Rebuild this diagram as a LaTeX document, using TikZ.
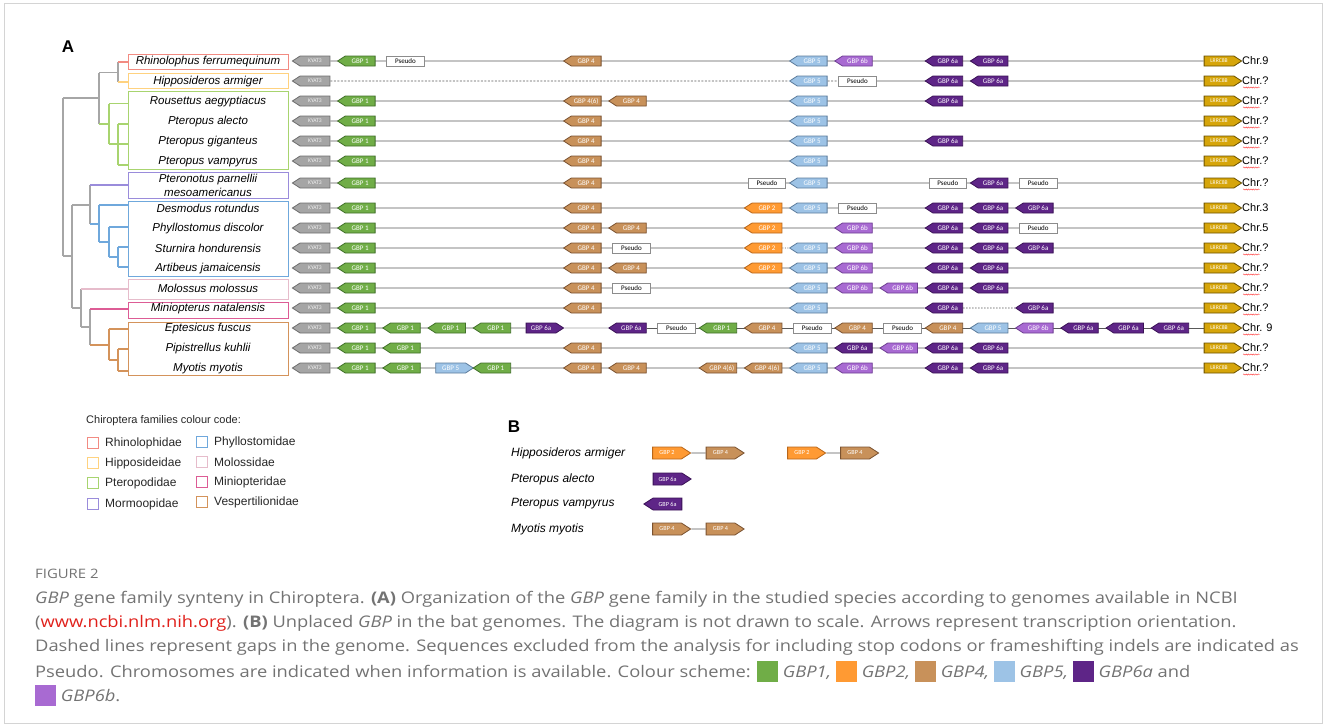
\documentclass[tikz,border=0pt]{standalone}
\usepackage{fontspec}
\setmainfont{Liberation Sans}
\newfontfamily\genefont{Carlito}
\newfontfamily\capfont{Open Sans}
\usetikzlibrary{shapes.symbols,backgrounds,decorations.pathmorphing}
\definecolor{kyF}{HTML}{A5A5A5}\definecolor{kyD}{HTML}{6E6E6E}
\definecolor{g1F}{HTML}{70AD47}\definecolor{g1D}{HTML}{41702A}
\definecolor{g2F}{HTML}{FF9A33}\definecolor{g2D}{HTML}{B8661A}
\definecolor{g4F}{HTML}{C8915A}\definecolor{g4D}{HTML}{7A5230}
\definecolor{g5F}{HTML}{9DC3E6}\definecolor{g5D}{HTML}{5C7C9C}
\definecolor{g6aF}{HTML}{5E2587}\definecolor{g6aD}{HTML}{3A1256}
\definecolor{g6bF}{HTML}{A86AD2}\definecolor{g6bD}{HTML}{6E3E92}
\definecolor{lrF}{HTML}{D6A50A}\definecolor{lrD}{HTML}{6B5200}
\definecolor{psD}{HTML}{8C8C8C}
\definecolor{lineG}{HTML}{595959}
\definecolor{treeG}{HTML}{A6A6A6}
\definecolor{rhC}{HTML}{F28B82}
\definecolor{hiC}{HTML}{FFD27F}
\definecolor{ptC}{HTML}{A8D46F}
\definecolor{moC}{HTML}{9A8CDB}
\definecolor{phC}{HTML}{6FA8DC}
\definecolor{mlC}{HTML}{E6BCCB}
\definecolor{miC}{HTML}{DD5C95}
\definecolor{veC}{HTML}{D4935B}
\definecolor{capG}{HTML}{737373}
\definecolor{capRed}{HTML}{E0201B}
\definecolor{frameG}{HTML}{D4D4D4}
\newcommand{\generow}[3]{\foreach \gk/\gs/\gl in {#3} {\node[\gs] (r#1-\gk) at ({315+45.2*\gk},#2) {\gl};}}
\newcommand{\csq}[1]{{\color{#1}\rule[-4.5pt]{18.5pt}{21pt}}\hspace{4pt}}
\newcommand{\capline}[1]{\scalebox{1.145}[1]{#1}}
\begin{document}
\begin{tikzpicture}[x=1pt,y=-1pt,
  gene/.style={signal, signal to=west, signal pointer angle=66, minimum width=37.5pt, minimum height=10pt, inner sep=0pt, line width=0.8pt, text=white, font=\genefont\fontsize{7}{7}\selectfont},
  gKY/.style={gene, fill=kyF, draw=kyD, text=white!90!gray, font=\genefont\fontsize{5.6}{6}\selectfont},
  gG1/.style={gene, fill=g1F, draw=g1D},
  gG2/.style={gene, fill=g2F, draw=g2D},
  gG4/.style={gene, fill=g4F, draw=g4D},
  gG5/.style={gene, fill=g5F, draw=g5D},
  gG5R/.style={gG5, signal to=east},
  gG6a/.style={gene, fill=g6aF, draw=g6aD},
  gG6aR/.style={gG6a, signal to=east},
  gG6b/.style={gene, fill=g6bF, draw=g6bD},
  gLR/.style={gene, signal to=east, fill=lrF, draw=lrD, font=\genefont\fontsize{5.6}{6}\selectfont},
  gPS/.style={rectangle, draw=psD, fill=white, line width=0.8pt, minimum width=37.5pt, minimum height=10pt, inner sep=0pt, text=black, font=\genefont\fontsize{7}{7}\selectfont},
  bigB/.style={minimum width=38pt, minimum height=12pt, signal to=east, font=\genefont\fontsize{6.2}{7}\selectfont},
  rowline/.style={draw=lineG, line width=0.9pt},
  tr/.style={line width=1.2pt, draw=treeG},
  fam/.style={line width=1pt},
  sp/.style={inner sep=0pt, font=\itshape\fontsize{11.5}{14}\selectfont},
  spB/.style={inner sep=0pt, anchor=west, font=\itshape\fontsize{12}{14}\selectfont},
  chrlab/.style={inner sep=0pt, anchor=west, font=\fontsize{11}{13}\selectfont},
  leg/.style={inner sep=0pt, anchor=west, font=\fontsize{12}{14}\selectfont, text=black!85},
  panel/.style={inner sep=0pt, font=\bfseries\fontsize{17}{19}\selectfont},
  captxt/.style={inner sep=0pt, anchor=west, text=capG, font=\capfont\fontsize{16}{18}\selectfont}
]
\useasboundingbox (0,0) rectangle (1328,726);
\draw[frameG, line width=0.8pt] (4,3) rectangle (1322,723);

\node[panel] (A) at (68,47) {A};

% ---- species boxes
\draw[fam, rhC] (128,54) rectangle (288,69);
\draw[fam, hiC] (128,73) rectangle (288,88);
\draw[fam, ptC] (128,91) rectangle (288,169);
\draw[fam, moC] (128,172) rectangle (288,198);
\draw[fam, phC] (128,201) rectangle (288,276);
\draw[fam, mlC] (128,279) rectangle (288,299);
\draw[fam, miC] (128,302) rectangle (288,318);
\draw[fam, veC] (128,322) rectangle (288,375);

% ---- species names
\node[sp] (s1) at (208,61.5) {Rhinolophus ferrumequinum};
\node[sp] (s2) at (208,81.5) {Hipposideros armiger};
\node[sp] (s3) at (208,101.5) {Rousettus aegyptiacus};
\node[sp] (s4) at (208,121.5) {Pteropus alecto};
\node[sp] (s5) at (208,141.5) {Pteropus giganteus};
\node[sp] (s6) at (208,161.5) {Pteropus vampyrus};
\node[sp, align=center, font=\itshape\fontsize{11.5}{14.5}\selectfont] (s7) at (208,185.5) {Pteronotus parnellii\\mesoamericanus};
\node[sp] (s8) at (208,208.5) {Desmodus rotundus};
\node[sp] (s9) at (208,228.5) {Phyllostomus discolor};
\node[sp] (s10) at (208,248.5) {Sturnira hondurensis};
\node[sp] (s11) at (208,268.5) {Artibeus jamaicensis};
\node[sp] (s12) at (208,288.5) {Molossus molossus};
\node[sp] (s13) at (208,308.5) {Miniopterus natalensis};
\node[sp] (s14) at (208,328.5) {Eptesicus fuscus};
\node[sp] (s15) at (208,348.5) {Pipistrellus kuhlii};
\node[sp] (s16) at (208,368.5) {Myotis myotis};

% ---- tree
\draw[tr] (63,98) -- (63,256);
\draw[tr] (63,98) -- (99,98);
\draw[tr] (99,72.5) -- (99,124);
\draw[tr] (99,72.5) -- (118,72.5);
\draw[tr] (118,62) -- (118,82);
\draw[tr, rhC] (118,62) -- (128,62);
\draw[tr, hiC] (118,82) -- (128,82);
\draw[tr, ptC] (99,124) -- (109,124);
\draw[tr, ptC] (109,103.5) -- (109,144);
\draw[tr, ptC] (109,103.5) -- (128,103.5);
\draw[tr, ptC] (109,144) -- (128,144);
\draw[tr, ptC] (118,124) -- (118,165);
\draw[tr, ptC] (118,124) -- (128,124);
\draw[tr, ptC] (118,165) -- (128,165);
\draw[tr] (63,256) -- (72,256);
\draw[tr] (72,205) -- (72,308);
\draw[tr] (72,205) -- (90,205);
\draw[tr] (90,185) -- (90,224);
\draw[tr, moC] (90,185) -- (128,185);
\draw[tr, phC] (90,224) -- (99,224);
\draw[tr, phC] (99,205) -- (99,242);
\draw[tr, phC] (99,205) -- (128,205);
\draw[tr, phC] (99,242) -- (109,242);
\draw[tr, phC] (109,227) -- (109,257);
\draw[tr, phC] (109,227) -- (128,227);
\draw[tr, phC] (109,257) -- (118,257);
\draw[tr, phC] (118,247) -- (118,267);
\draw[tr, phC] (118,247) -- (128,247);
\draw[tr, phC] (118,267) -- (128,267);
\draw[tr] (72,308) -- (81,308);
\draw[tr] (81,289) -- (81,327);
\draw[tr, mlC] (81,289) -- (128,289);
\draw[tr] (81,327) -- (90,327);
\draw[tr] (90,309) -- (90,345);
\draw[tr, miC] (90,309) -- (128,309);
\draw[tr, veC] (90,345) -- (109,345);
\draw[tr, veC] (109,329) -- (109,360);
\draw[tr, veC] (109,329) -- (128,329);
\draw[tr, veC] (109,360) -- (118,360);
\draw[tr, veC] (118,349) -- (118,371);
\draw[tr, veC] (118,349) -- (128,349);
\draw[tr, veC] (118,371) -- (128,371);

% ---- gene rows
\generow{1}{61}{0/gKY/KYAT3, 1/gG1/GBP 1, 2/gPS/Pseudo, 6/gG4/GBP 4, 11/gG5/GBP 5, 12/gG6b/GBP 6b, 14/gG6a/GBP 6a, 15/gG6a/GBP 6a, 20/gLR/LRRC8B}
\generow{2}{81}{0/gKY/KYAT3, 11/gG5/GBP 5, 12/gPS/Pseudo, 14/gG6a/GBP 6a, 15/gG6a/GBP 6a, 20/gLR/LRRC8B}
\generow{3}{101}{0/gKY/KYAT3, 1/gG1/GBP 1, 6/gG4/GBP 4(6), 7/gG4/GBP 4, 11/gG5/GBP 5, 14/gG6a/GBP 6a, 20/gLR/LRRC8B}
\generow{4}{121}{0/gKY/KYAT3, 1/gG1/GBP 1, 6/gG4/GBP 4, 11/gG5/GBP 5, 20/gLR/LRRC8B}
\generow{5}{141}{0/gKY/KYAT3, 1/gG1/GBP 1, 6/gG4/GBP 4, 11/gG5/GBP 5, 14/gG6a/GBP 6a, 20/gLR/LRRC8B}
\generow{6}{161}{0/gKY/KYAT3, 1/gG1/GBP 1, 6/gG4/GBP 4, 11/gG5/GBP 5, 20/gLR/LRRC8B}
\generow{7}{183}{0/gKY/KYAT3, 1/gG1/GBP 1, 6/gG4/GBP 4, 10/gPS/Pseudo, 11/gG5/GBP 5, 14/gPS/Pseudo, 15/gG6a/GBP 6a, 16/gPS/Pseudo, 20/gLR/LRRC8B}
\generow{8}{208}{0/gKY/KYAT3, 1/gG1/GBP 1, 6/gG4/GBP 4, 10/gG2/GBP 2, 11/gG5/GBP 5, 12/gPS/Pseudo, 14/gG6a/GBP 6a, 15/gG6a/GBP 6a, 16/gG6a/GBP 6a, 20/gLR/LRRC8B}
\generow{9}{228}{0/gKY/KYAT3, 1/gG1/GBP 1, 6/gG4/GBP 4, 7/gG4/GBP 4, 10/gG2/GBP 2, 12/gG6b/GBP 6b, 14/gG6a/GBP 6a, 15/gG6a/GBP 6a, 16/gPS/Pseudo, 20/gLR/LRRC8B}
\generow{10}{248}{0/gKY/KYAT3, 1/gG1/GBP 1, 6/gG4/GBP 4, 7/gPS/Pseudo, 10/gG2/GBP 2, 11/gG5/GBP 5, 12/gG6b/GBP 6b, 14/gG6a/GBP 6a, 15/gG6a/GBP 6a, 16/gG6a/GBP 6a, 20/gLR/LRRC8B}
\generow{11}{268}{0/gKY/KYAT3, 1/gG1/GBP 1, 6/gG4/GBP 4, 7/gG4/GBP 4, 10/gG2/GBP 2, 11/gG5/GBP 5, 12/gG6b/GBP 6b, 14/gG6a/GBP 6a, 15/gG6a/GBP 6a, 20/gLR/LRRC8B}
\generow{12}{288}{0/gKY/KYAT3, 1/gG1/GBP 1, 6/gG4/GBP 4, 7/gPS/Pseudo, 11/gG5/GBP 5, 12/gG6b/GBP 6b, 13/gG6b/GBP 6b, 14/gG6a/GBP 6a, 15/gG6a/GBP 6a, 20/gLR/LRRC8B}
\generow{13}{308}{0/gKY/KYAT3, 1/gG1/GBP 1, 6/gG4/GBP 4, 11/gG5/GBP 5, 14/gG6a/GBP 6a, 16/gG6a/GBP 6a, 20/gLR/LRRC8B}
\generow{14}{328}{0/gKY/KYAT3, 1/gG1/GBP 1, 2/gG1/GBP 1, 3/gG1/GBP 1, 4/gG1/GBP 1, 5/gG6aR/GBP 6a, 7/gG6a/GBP 6a, 8/gPS/Pseudo, 9/gG1/GBP 1, 10/gG4/GBP 4, 11/gPS/Pseudo, 12/gG4/GBP 4, 13/gPS/Pseudo, 14/gG4/GBP 4, 15/gG5/GBP 5, 16/gG6b/GBP 6b, 17/gG6a/GBP 6a, 18/gG6a/GBP 6a, 19/gG6a/GBP 6a, 20/gLR/LRRC8B}
\generow{15}{348}{0/gKY/KYAT3, 1/gG1/GBP 1, 2/gG1/GBP 1, 6/gG4/GBP 4, 11/gG5/GBP 5, 12/gG6a/GBP 6a, 13/gG6b/GBP 6b, 14/gG6a/GBP 6a, 15/gG6a/GBP 6a, 20/gLR/LRRC8B}
\generow{16}{368}{0/gKY/KYAT3, 1/gG1/GBP 1, 2/gG1/GBP 1, 3/gG5R/GBP 5, 4/gG1/GBP 1, 6/gG4/GBP 4, 7/gG4/GBP 4, 9/gG4/GBP 4(6), 10/gG4/GBP 4(6), 11/gG5/GBP 5, 12/gG6b/GBP 6b, 14/gG6a/GBP 6a, 15/gG6a/GBP 6a, 20/gLR/LRRC8B}

% ---- chromosome labels
\foreach \i/\y/\c/\w in {1/61/Chr.9/0, 2/81/Chr.?/1, 3/101/Chr.?/1, 4/121/Chr.?/1, 5/141/Chr.?/1, 6/161/Chr.?/1, 7/183/Chr.?/1, 8/208/Chr.3/0, 9/228/Chr.5/0, 10/248/Chr.?/1, 11/268/Chr.?/1, 12/288/Chr.?/1, 13/308/Chr.?/1, 14/328/Chr. 9/1, 15/348/Chr.?/1, 16/368/Chr.?/1}{
  \node[chrlab] (chr\i) at (1242,\y) {\c};
  \ifnum\w=1
    \draw[red!80, line width=0.4pt, decorate, decoration={snake, amplitude=0.6pt, segment length=2.4pt}] (1243,{\y+6.5}) -- (1260,{\y+6.5});
  \fi
}

% ---- legend
\node[inner sep=0pt, anchor=west, font=\fontsize{11}{13}\selectfont, text=black!85] (legt) at (86,421) {Chiroptera families colour code:};
\foreach \n/\x/\y/\c/\t in {1/93/443/rhC/Rhinolophidae, 2/93/463/hiC/Hipposideidae, 3/93/483/ptC/Pteropodidae, 4/93/504/moC/Mormoopidae, 5/202/442/phC/Phyllostomidae, 6/202/462/mlC/Molossidae, 7/202/482/miC/Miniopteridae, 8/202/502/veC/Vespertilionidae}{
  \draw[\c, line width=0.9pt] ({\x-5.5},{\y-5.5}) rectangle ({\x+5.5},{\y+5.5});
  \node[leg] (leg\n) at ({\x+12},\y) {\t};
}

% ---- panel B
\node[panel] (B) at (514,427) {B};
\node[spB] (b1) at (511,453) {Hipposideros armiger};
\node[spB] (b2) at (511,479) {Pteropus alecto};
\node[spB] (b3) at (511,504) {Pteropus vampyrus};
\node[spB] (b4) at (511,529) {Myotis myotis};
\node[gG2, bigB] (b1a) at (667,453) {GBP 2};
\node[gG4, bigB] (b1b) at (720.5,453) {GBP 4};
\node[gG2, bigB] (b1c) at (802,453) {GBP 2};
\node[gG4, bigB] (b1d) at (855,453) {GBP 4};
\node[gG6a, bigB] (b2a) at (667.5,479) {GBP 6a};
\node[gG6a, bigB, signal to=west] (b3a) at (667.5,504) {GBP 6a};
\node[gG4, bigB] (b4a) at (667,529) {GBP 4};
\node[gG4, bigB] (b4b) at (720.5,529) {GBP 4};

% ---- connectors (behind genes)
\begin{pgfonlayer}{background}
\draw[rowline] (r1-0) -- (r1-20);
\draw[rowline, dash pattern=on 2pt off 1.5pt] (r2-0) -- (r2-11);
\draw[rowline, dash pattern=on 2pt off 1.5pt] (r2-11) -- (r2-12);
\draw[rowline] (r2-12) -- (r2-20);
\foreach \r in {3,4,5,6,7,8,9,11,12,15,16}{\draw[rowline] (r\r-0) -- (r\r-20);}
\draw[rowline] (r10-0) -- (r10-10);
\draw[rowline, dash pattern=on 1pt off 1.5pt] (r10-10) -- (r10-11);
\draw[rowline] (r10-11) -- (r10-20);
\draw[rowline] (r13-0) -- (r13-14);
\draw[rowline, dash pattern=on 1.5pt off 1.5pt] (r13-14) -- (r13-16);
\draw[rowline] (r13-16) -- (r13-20);
\draw[rowline] (r14-0) -- (r14-5);
\draw[rowline, draw=lineG!55] (r14-5) -- (r14-7);
\draw[rowline] (r14-7) -- (r14-20);
\draw[rowline] (b1a) -- (b1b);
\draw[rowline] (b1c) -- (b1d);
\draw[rowline] (b4a) -- (b4b);
\end{pgfonlayer}

% ---- caption
\node[captxt, font=\capfont\fontsize{13}{15}\selectfont] (fig) at (35,574) {\capline{FIGURE 2}};
\node[captxt] (c1) at (35,599) {\capline{\textit{GBP} gene family synteny in Chiroptera. \textbf{(A)} Organization of the \textit{GBP} gene family in the studied species according to genomes available in NCBI}};
\node[captxt] (c2) at (35,623) {\capline{({\color{capRed}www.ncbi.nlm.nih.org}). \textbf{(B)} Unplaced \textit{GBP} in the bat genomes. The diagram is not drawn to scale. Arrows represent transcription orientation.}};
\node[captxt] (c3) at (35,647) {\capline{Dashed lines represent gaps in the genome. Sequences excluded from the analysis for including stop codons or frameshifting indels are indicated as}};
\node[captxt] (c4) at (35,671) {\capline{Pseudo. Chromosomes are indicated when information is available. Colour scheme: \csq{g1F}\textit{GBP1,} \csq{g2F}\textit{GBP2,} \csq{g4F}\textit{GBP4,} \csq{g5F}\textit{GBP5,} \csq{g6aF}\textit{GBP6a} and}};
\node[captxt] (c5) at (35,695) {\capline{\csq{g6bF}\textit{GBP6b}.}};
\end{tikzpicture}
\end{document}
